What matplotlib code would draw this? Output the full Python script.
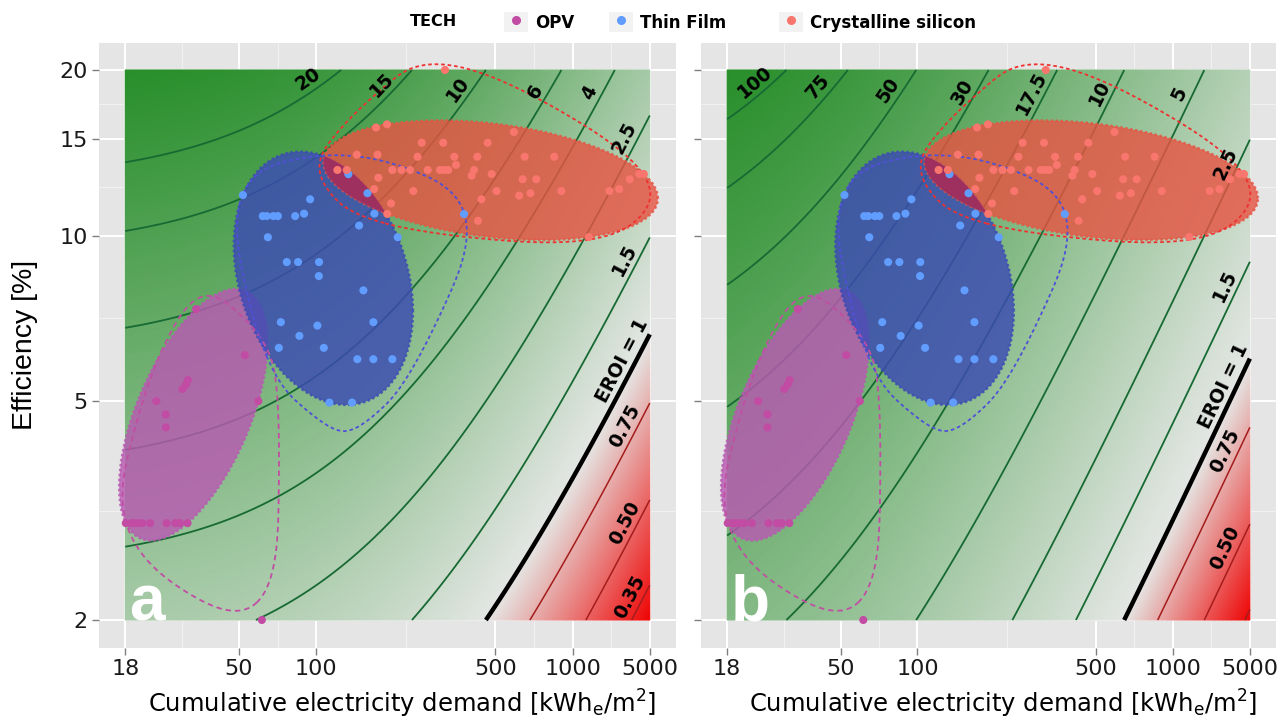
import numpy as np
import matplotlib
matplotlib.use("Agg")
import matplotlib.pyplot as plt
from matplotlib.colors import LinearSegmentedColormap, TwoSlopeNorm
from matplotlib.patches import Polygon, Patch
from matplotlib.lines import Line2D
from matplotlib.legend_handler import HandlerTuple

plt.rcParams['font.family'] = ['DejaVu Sans']

# ---------------- data ----------------
tech_names = ["OPV", "Thin Film", "Crystalline silicon"]

opv_ced = [18.1, 19.0, 19.5, 20.2, 21.0, 22.5, 26.1, 28.2, 29.4, 31.5,
           34.0, 52.7, 31.6, 31.1, 30.1, 23.8, 59.5, 25.9, 25.9, 61.4]
opv_eff = [3.0, 3.0, 3.0, 3.0, 3.0, 3.0, 3.0, 3.0, 3.0, 3.0,
           7.35, 6.06, 5.46, 5.36, 5.26, 5.0, 5.0, 4.73, 4.48, 2.0]
opv_core = [1, 1, 1, 1, 1, 1, 1, 1, 1, 1,
            1, 1, 1, 1, 1, 1, 1, 1, 1, 0]

tf_ced = [51.8, 94.7, 61.9, 64.2, 68.1, 70.9, 82.8, 89.7, 64.8, 76.8,
          85.0, 102.6, 102.4, 152.8, 72.8, 101.1, 167.1, 86.0, 71.5, 107.1,
          144.7, 167.1, 198.2, 112.6, 138.0, 133.5, 158.5, 168.6, 147.0, 208.0,
          377.1]
tf_eff = [11.85, 11.64, 10.85, 10.85, 10.85, 10.85, 10.85, 10.96, 9.93, 8.95,
          8.95, 8.95, 8.44, 7.95, 6.96, 6.86, 6.96, 6.57, 6.25, 6.25,
          5.96, 5.96, 5.96, 4.97, 4.97, 12.93, 11.94, 10.96, 10.43, 9.93,
          10.94]
tf_core = [1] * 30 + [0]

csi_ced = [318, 171.2, 188.9, 258, 313, 466.5, 590.5, 144, 173.5, 248.5,
           345.6, 424.9, 650, 848, 121, 131.6, 198.2, 215.2, 232.3, 272.3,
           304, 316, 327.5, 351, 412.5, 404, 483.5, 638.6, 721.4, 174.8,
           168.2, 239.2, 505, 619.4, 684.8, 904.4, 1392, 1520, 1672, 1821,
           1896, 195.9, 441.2, 189.4, 427.6, 1157.5]
csi_eff = [20.0, 15.72, 15.93, 14.75, 14.75, 14.75, 15.43, 14.03, 14.03, 13.91,
           13.91, 13.91, 13.91, 13.91, 13.16, 13.16, 13.16, 13.16, 13.16, 13.16,
           13.16, 13.16, 13.16, 13.44, 13.16, 12.85, 12.94, 12.66, 12.66, 12.74,
           12.15, 12.05, 12.05, 11.82, 11.94, 12.05, 12.05, 12.15, 12.66, 12.94,
           12.94, 11.44, 11.64, 10.95, 10.64, 9.94]
csi_core = [0] + [1] * 45

# EROI model per panel: EROI = gain * eff / (CED + bos)
panel_names = ["a", "b"]
eroi_gain = [334.0, 341.0]
bos_demand = [209.0, 37.5]

levels_a = [0.35, 0.5, 0.75, 1, 1.5, 2.5, 4, 6, 10, 15, 20]
labels_a = ["0.35", "0.50", "0.75", "EROI = 1", "1.5", "2.5", "4", "6", "10", "15", "20"]
levels_b = [0.35, 0.5, 0.75, 1, 1.5, 2.5, 5, 10, 17.5, 30, 50, 75, 100]
labels_b = [None, "0.50", "0.75", "EROI = 1", "1.5", "2.5", "5", "10", "17.5", "30", "50", "75", "100"]

xtick_values = [18, 50, 100, 500, 1000, 2000]
xtick_labels = ["18", "50", "100", "500", "1000", "5000"]
ytick_values = [2, 5, 10, 15, 20]
ytick_labels = ["2", "5", "10", "15", "20"]
ced_range = [18, 2000]
eff_range = [2, 20]

# ---------------- styles ----------------
point_colors = ["#C24CA4", "#619CFF", "#F8766D"]
fill_colors = ["#B85AB2", "#3C4BB4", "#E65544"]
dash_colors = ["#C04FA3", "#5050D8", "#F03030"]
overlap_color = "#9A2C62"
bg_grey = "#E5E5E5"
ENC_EXPAND = 0.05
ENC_SHAPE = 0.55


def mvee(P, tol=1e-9, maxit=20000):
    """Minimum-volume enclosing ellipse (Khachiyan)."""
    N, d = P.shape
    Q = np.vstack([P.T, np.ones(N)])
    u = np.ones(N) / N
    for _ in range(maxit):
        X = (Q * u) @ Q.T
        M = np.einsum("ij,ji->i", Q.T @ np.linalg.inv(X), Q)
        j = int(np.argmax(M))
        step = (M[j] - d - 1.0) / ((d + 1.0) * (M[j] - 1.0))
        nu = (1 - step) * u
        nu[j] += step
        if np.linalg.norm(nu - u) < tol:
            u = nu
            break
        u = nu
    c = P.T @ u
    S = d * ((P.T * u) @ P - np.outer(c, c))
    return c, S


def hull_ellipse(ced, eff, n=400):
    P = np.column_stack([np.log10(np.asarray(ced, float)), np.log10(np.asarray(eff, float))])
    c, S = mvee(P)
    L = np.linalg.cholesky(S)
    a = np.linspace(0, 2 * np.pi, n)
    E = c + np.column_stack([np.cos(a), np.sin(a)]) @ L.T
    return 10 ** E[:, 0], 10 ** E[:, 1]


def convex_hull(pts):
    idx = sorted(range(len(pts)), key=lambda i: (pts[i][0], pts[i][1]))

    def cross(o, a, b):
        return (a[0] - o[0]) * (b[1] - o[1]) - (a[1] - o[1]) * (b[0] - o[0])
    lower, upper = [], []
    for i in idx:
        while len(lower) >= 2 and cross(pts[lower[-2]], pts[lower[-1]], pts[i]) <= 0:
            lower.pop()
        lower.append(i)
    for i in reversed(idx):
        while len(upper) >= 2 and cross(pts[upper[-2]], pts[upper[-1]], pts[i]) <= 0:
            upper.pop()
        upper.append(i)
    return lower[:-1] + upper[:-1]


def f_blend(num, den):
    p = 2 * den * den
    u = num / den
    return u ** 3 * (10 - p + (2 * p - 15) * u + (6 - p) * u * u)


def xspline_closed(P, s, step=0.02):
    n = len(P)
    out = []
    for k in range(n):
        p0, p1, p2, p3 = P[k % n], P[(k + 1) % n], P[(k + 2) % n], P[(k + 3) % n]
        for t in np.arange(0, 1, step):
            A0 = f_blend(t - s, -1 - s) if t < s else 0.0
            A2 = f_blend(t + s, 1 + s)
            A1 = f_blend(t - 1 - s, -1 - s)
            A3 = f_blend(t - 1 + s, 1 + s) if t > 1 - s else 0.0
            ws = A0 + A1 + A2 + A3
            out.append((A0 * p0 + A1 * p1 + A2 * p2 + A3 * p3) / ws)
    out.append(out[0])
    return np.array(out)


def encircle(ax, ced, eff, expand=ENC_EXPAND, s=ENC_SHAPE):
    pts = ax.transData.transform(np.column_stack([ced, eff]))
    m = pts.mean(axis=0)
    hull = pts[convex_hull([tuple(p) for p in pts])]
    bb = ax.get_window_extent()
    snpc = min(bb.width, bb.height)
    d = hull - m
    r = np.hypot(d[:, 0], d[:, 1])
    hull_e = hull + expand * snpc * d / r[:, None]
    curve = xspline_closed(hull_e, s)
    return ax.transData.inverted().transform(curve)


cmap = LinearSegmentedColormap.from_list(
    "eroi", [(0.0, (0.94, 0.02, 0.02)), (0.5, (0.895, 0.905, 0.895)), (1.0, (0.16, 0.56, 0.17))])

fig = plt.figure(figsize=(12.77, 7.26), dpi=100)
W, H = 1277.0, 726.0
ax_a = fig.add_axes([99 / W, 1 - 647.5 / H, 577 / W, 605 / H])
ax_b = fig.add_axes([701 / W, 1 - 647.5 / H, 575 / W, 605 / H])
axes = [ax_a, ax_b]

techs = [(opv_ced, opv_eff, opv_core), (tf_ced, tf_eff, tf_core), (csi_ced, csi_eff, csi_core)]

lx0, lx1 = np.log10(ced_range[0]), np.log10(ced_range[1])
ly0, ly1 = np.log10(eff_range[0]), np.log10(eff_range[1])
ex, ey = 0.05 * (lx1 - lx0), 0.05 * (ly1 - ly0)

all_levels = [levels_a, levels_b]
all_labels = [labels_a, labels_b]

for k, ax in enumerate(axes):
    ax.set_xscale("log")
    ax.set_yscale("log")
    ax.set_xlim(10 ** (lx0 - ex), 10 ** (lx1 + ex))
    ax.set_ylim(10 ** (ly0 - ey), 10 ** (ly1 + ey))
    ax.set_facecolor(bg_grey)
    for s in ax.spines.values():
        s.set_visible(False)
    ax.set_xticks(xtick_values)
    ax.set_xticklabels(xtick_labels)
    ax.set_yticks(ytick_values)
    ax.set_yticklabels(ytick_labels if k == 0 else [])
    ax.xaxis.set_minor_locator(matplotlib.ticker.NullLocator())
    ax.yaxis.set_minor_locator(matplotlib.ticker.NullLocator())
    ax.tick_params(axis="both", length=5, width=1, color="#7F7F7F", labelsize=16,
                   labelcolor="#1A1A1A", pad=3)
    ax.set_axisbelow(True)
    ax.grid(True, which="major", color="white", lw=1.4, zorder=0)
    xv = np.array(xtick_values, float)
    yv = np.array(ytick_values, float)
    for m in np.sqrt(xv[:-1] * xv[1:]):
        ax.axvline(m, color="#F2F2F2", lw=0.7, zorder=0.4)
    for m in np.sqrt(yv[:-1] * yv[1:]):
        ax.axhline(m, color="#F2F2F2", lw=0.7, zorder=0.4)

    # EROI background field
    cg = np.logspace(lx0, lx1, 320)
    eg = np.logspace(ly0, ly1, 320)
    CC, EE = np.meshgrid(cg, eg)
    Z = eroi_gain[k] * EE / (CC + bos_demand[k])
    LZ = np.log(Z)
    norm = TwoSlopeNorm(vmin=LZ.min(), vcenter=0.0, vmax=LZ.max())
    ax.pcolormesh(CC, EE, LZ, cmap=cmap, norm=norm, shading="gouraud",
                  alpha=0.85, zorder=1, rasterized=True)

    lev = all_levels[k]
    cols = ["#176A33" if v > 1 else ("black" if v == 1 else "#A51C1C") for v in lev]
    lws = [1.3 if v > 1 else (3.2 if v == 1 else 1.1) for v in lev]
    cs = ax.contour(CC, EE, Z, levels=lev, colors=cols, linewidths=lws, zorder=2)
    ax._cs = cs

    ax.text(0.052, 0.045, panel_names[k], transform=ax.transAxes, color="white",
            fontsize=46, fontweight="bold", family="Liberation Sans", ha="left",
            va="baseline", zorder=7)

    ax.set_xlabel("Cumulative electricity demand [kWh$_\\mathregular{e}$/m$^\\mathregular{2}$]",
                  fontsize=17.5)
    ax.xaxis.set_label_coords(0.526, -0.066)

ax_a.set_ylabel("Efficiency [%]", fontsize=20.5, family="Liberation Sans")
ax_a.yaxis.set_label_coords(-0.106, 0.5)

fig.canvas.draw()

for k, ax in enumerate(axes):
    # filled: enclosing ellipse of the core points; dashed: encircling curve of all points
    fills = []
    for t, (cx, cy, core) in enumerate(techs):
        cx_c = [c for c, f in zip(cx, core) if f]
        cy_c = [e for e, f in zip(cy, core) if f]
        ex_, ey_ = hull_ellipse(cx_c, cy_c)
        poly = np.column_stack([ex_, ey_])
        fills.append(poly)
        ax.add_patch(Polygon(poly, closed=True, facecolor=fill_colors[t], alpha=0.82,
                             edgecolor="none", zorder=3))
        ax.plot(ex_, ey_, color=fill_colors[t], lw=1.8, ls=(0, (1, 1)), alpha=0.82, zorder=3)
    # darker blend where the crystalline-silicon shape lies over the thin-film one
    ov = Polygon(fills[2], closed=True, facecolor=overlap_color, alpha=0.9,
                 edgecolor="none", zorder=3.2)
    ax.add_patch(ov)
    clip = Polygon(fills[1], closed=True, transform=ax.transData)
    ov.set_clip_path(clip)
    for t, (cx, cy, core) in enumerate(techs):
        poly = encircle(ax, cx, cy)
        ax.plot(poly[:, 0], poly[:, 1], color=dash_colors[t], lw=1.3,
                ls=(0, (3, 2.2)) if t == 0 else (0, (2, 1.6)), zorder=4)
    for t, (cx, cy, core) in enumerate(techs):
        ax.scatter(cx, cy, s=34, color=point_colors[t], edgecolors="none", zorder=5)

# contour labels near the upper/right end of each line
for k, ax in enumerate(axes):
    cs = ax._cs
    for path, lab in zip(cs.get_paths(), all_labels[k]):
        if lab is None or len(path.vertices) < 2:
            continue
        d = ax.transData.transform(path.vertices)
        if d[0, 0] + d[0, 1] > d[-1, 0] + d[-1, 1]:
            d = d[::-1]
        seg = np.diff(d, axis=0)
        cum = np.concatenate([[0], np.cumsum(np.hypot(seg[:, 0], seg[:, 1]))])
        total = cum[-1]
        back = 36 if lab == "EROI = 1" else 32
        s = max(total - back, total * 0.5)
        px, py = np.interp(s, cum, d[:, 0]), np.interp(s, cum, d[:, 1])
        s1, s2 = max(s - 12, 0), min(s + 12, total)
        tx = np.interp(s2, cum, d[:, 0]) - np.interp(s1, cum, d[:, 0])
        ty = np.interp(s2, cum, d[:, 1]) - np.interp(s1, cum, d[:, 1])
        nrm = np.hypot(tx, ty)
        nx, ny = -ty / nrm, tx / nrm
        off = 12
        pos = ax.transData.inverted().transform((px + off * nx, py + off * ny))
        ang = np.degrees(np.arctan2(ty, tx))
        ax.text(pos[0], pos[1], lab, rotation=ang, rotation_mode="anchor",
                ha="center", va="center", fontsize=13.5, fontweight="bold",
                color="black", zorder=6)

# legend: one entry per key so each sits where the reference has it
key_left = [504, 609, 779]
for name, c, xl in zip(tech_names, point_colors, key_left):
    h = (Patch(facecolor="#F2F2F2", edgecolor="none"),
         Line2D([], [], ls="none", marker="o", ms=5.5, color=c))
    fig.legend([h], [name], handler_map={tuple: HandlerTuple(ndivide=1, pad=0)},
               loc="center left", bbox_to_anchor=(xl / W, 1 - 22 / H), frameon=False,
               prop=dict(weight="bold", size=12), handlelength=1.45, handleheight=1.45,
               handletextpad=0.4, borderaxespad=0, borderpad=0)
fig.text(433 / W, 1 - 22 / H, "TECH", fontsize=11.5, fontweight="bold",
         ha="center", va="center")

fig.savefig("out.png", dpi=100)
